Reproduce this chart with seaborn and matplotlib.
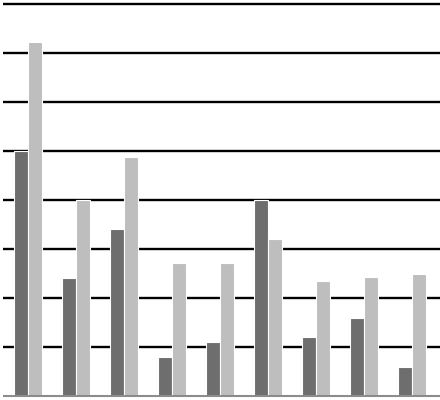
import numpy as np
import pandas as pd
import matplotlib
matplotlib.use("Agg")
import matplotlib.pyplot as plt
import seaborn as sns

categories = ['1', '2', '3', '4', '5', '6', '7', '8', '9']
series_a = [5.0, 2.4, 3.4, 0.8, 1.1, 4.0, 1.2, 1.6, 0.6]
series_b = [7.22, 4.0, 4.87, 2.72, 2.72, 3.2, 2.35, 2.43, 2.49]
yticks = [0, 1, 2, 3, 4, 5, 6, 7, 8]

df = pd.DataFrame({
    'category': categories * 2,
    'value': series_a + series_b,
    'series': ['A'] * len(categories) + ['B'] * len(categories),
})

sns.set_style('white')
fig = plt.figure(figsize=(4.4, 4.0), dpi=100)
ax = fig.add_axes([3 / 440, 2 / 400, 437 / 440, 396 / 400])

sns.barplot(data=df, x='category', y='value', hue='series',
            palette=['#6e6e6e', '#bebebe'], width=0.58, saturation=1,
            edgecolor='white', linewidth=0.8, legend=False, ax=ax, zorder=3)

for y in yticks[1:]:
    ax.axhline(y, color='black', linewidth=1.7, zorder=1)
ax.axhline(0, color='#8c8c8c', linewidth=1.5, zorder=4)

ax.set_xlim(-25 / 48, 412 / 48)
ax.set_ylim(-2 / 49, 394 / 49)
ax.set_xticks([])
ax.set_yticks([])
ax.set_xlabel('')
ax.set_ylabel('')
for s in ax.spines.values():
    s.set_visible(False)

fig.savefig('out.png', dpi=100)
